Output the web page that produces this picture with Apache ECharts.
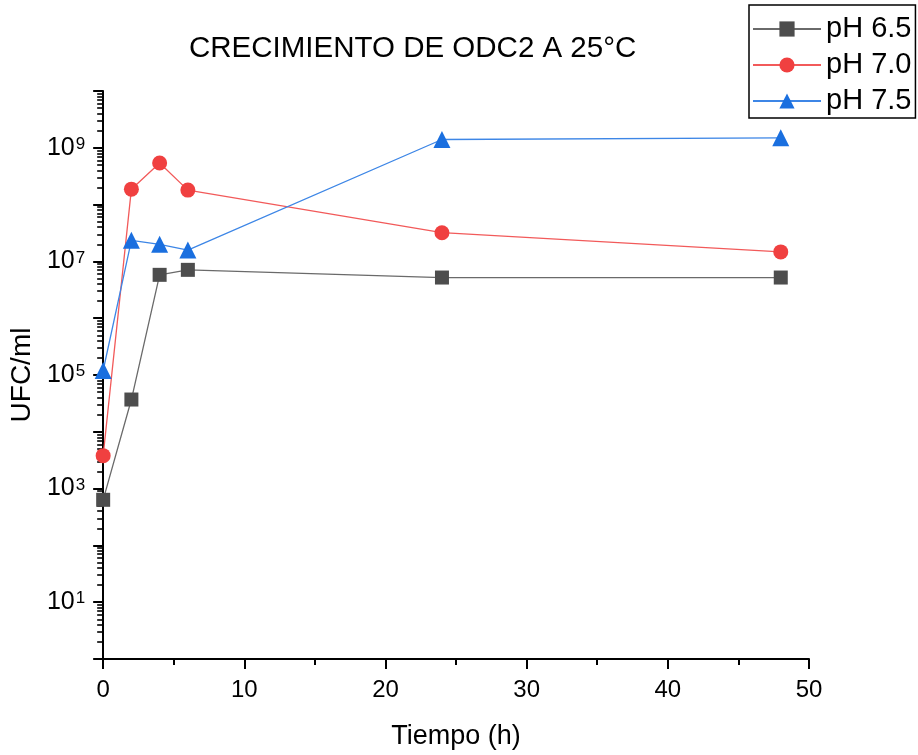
<!DOCTYPE html>
<html>
<head>
<meta charset="utf-8">
<script src="https://cdn.jsdelivr.net/npm/echarts@6/dist/echarts.min.js"></script>
<style>
html,body{margin:0;padding:0;background:#fff;}
#chart{width:918px;height:755px;}
</style>
</head>
<body>
<div id="chart"></div>
<script>
// ---- data ----
const times = [0, 2, 4, 6, 24, 48];
const ph65 = [635, 3.7e4, 5.8e6, 7.1e6, 5.2e6, 5.2e6];
const ph70 = [3.8e3, 1.87e8, 5.4e8, 1.8e8, 3.2e7, 1.47e7];
const ph75 = [1.2e5, 2.35e7, 2.0e7, 1.58e7, 1.4e9, 1.5e9];
const seriesNames = ['pH 6.5', 'pH 7.0', 'pH 7.5'];
const xTicks = [0, 10, 20, 30, 40, 50];
const yMajor = [1, 10, 1e2, 1e3, 1e4, 1e5, 1e6, 1e7, 1e8, 1e9, 1e10];
const yLabelled = [10, 1e3, 1e5, 1e7, 1e9];
const yMinorMult = [2, 3, 4, 5, 6, 7, 8, 9];

const FONT = '"Liberation Sans", Arial, sans-serif';
const yMinor = [];
yMajor.slice(0, -1).forEach(d => yMinorMult.forEach(m => yMinor.push(d * m)));

const pair = arr => times.map((t, i) => [t, arr[i]]);

const chart = echarts.init(document.getElementById('chart'), null, {renderer: 'canvas'});
chart.setOption({
  animation: false,
  backgroundColor: '#fff',
  title: {
    text: 'CRECIMIENTO DE ODC2 A 25°C',
    left: 184, top: 29,
    textStyle: {fontFamily: FONT, fontSize: 29.5, fontWeight: 'normal', color: '#000'}
  },
  legend: {
    left: 749, top: 5,
    orient: 'vertical',
    padding: [9, 4, 2, 3],
    itemGap: 6,
    itemWidth: 68, itemHeight: 19,
    borderColor: '#000', borderWidth: 1.5,
    textStyle: {fontFamily: FONT, fontSize: 29, color: '#000', lineHeight: 30},
    data: seriesNames
  },
  grid: {left: 102, right: 109, top: 91, bottom: 95, containLabel: false},
  xAxis: {
    type: 'value', min: 0, max: 50, interval: 10,
    name: 'Tiempo (h)', nameLocation: 'middle', nameGap: 64,
    nameTextStyle: {fontFamily: FONT, fontSize: 27, color: '#000'},
    axisLine: {show: true, onZero: false, lineStyle: {color: '#000', width: 2}},
    axisTick: {show: true, length: 10, lineStyle: {color: '#000', width: 2}},
    minorTick: {show: true, splitNumber: 2, length: 6, lineStyle: {color: '#000', width: 2}},
    axisLabel: {
      margin: 19, fontFamily: FONT, fontSize: 24, color: '#000',
      customValues: xTicks
    },
    splitLine: {show: false}
  },
  yAxis: [{
    type: 'log', logBase: 10, min: 1, max: 1e10,
    position: 'left',
    name: 'UFC/ml', nameLocation: 'middle', nameGap: 66,
    nameTextStyle: {fontFamily: FONT, fontSize: 28, color: '#000'},
    axisLine: {show: true, lineStyle: {color: '#000', width: 2}},
    axisTick: {show: true, length: 10, customValues: yMajor, lineStyle: {color: '#000', width: 2}},
    axisLabel: {
      margin: 18,
      customValues: yLabelled,
      formatter: v => '{b|10}{s|' + Math.round(Math.log10(v)) + '}',
      rich: {
        b: {fontFamily: FONT, fontSize: 25, color: '#000', lineHeight: 28},
        s: {fontFamily: FONT, fontSize: 17, color: '#000', verticalAlign: 'top', lineHeight: 17, padding: [2, 0, 0, 1]}
      }
    },
    splitLine: {show: false}
  }, {
    type: 'log', logBase: 10, min: 1, max: 1e10,
    position: 'left',
    axisLine: {show: false},
    axisTick: {show: true, length: 6, customValues: yMinor, lineStyle: {color: '#000', width: 1.6}},
    axisLabel: {show: false},
    splitLine: {show: false}
  }],
  series: [{
    name: seriesNames[0], type: 'line', data: pair(ph65),
    symbol: 'rect', symbolSize: 14,
    itemStyle: {color: '#4d4d4d'},
    lineStyle: {color: '#6a6a6a', width: 1.3}
  }, {
    name: seriesNames[1], type: 'line', data: pair(ph70),
    symbol: 'circle', symbolSize: 15,
    itemStyle: {color: '#f04040'},
    lineStyle: {color: '#f25a5a', width: 1.3}
  }, {
    name: seriesNames[2], type: 'line', data: pair(ph75),
    symbol: 'triangle', symbolSize: 17,
    itemStyle: {color: '#1a6fdf'},
    lineStyle: {color: '#3d86e6', width: 1.3}
  }]
});
</script>
</body>
</html>
